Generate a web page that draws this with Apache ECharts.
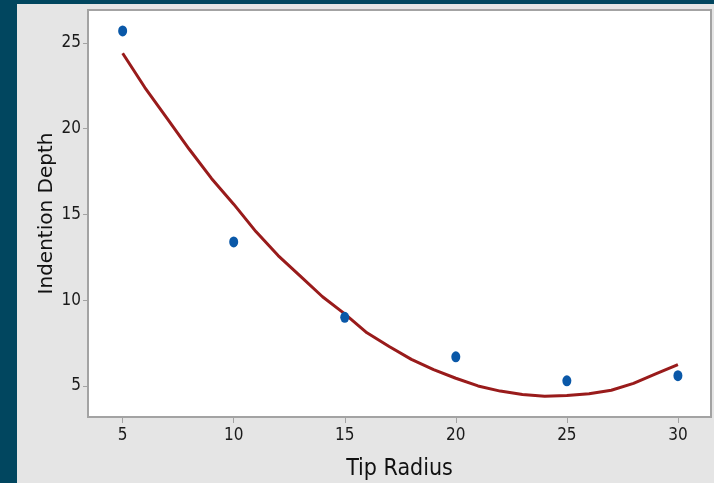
<!DOCTYPE html>
<html>
<head>
<meta charset="utf-8">
<script src="https://cdn.jsdelivr.net/npm/echarts@6/dist/echarts.min.js"></script>
<style>
  html, body { margin: 0; padding: 0; }
  body { width: 714px; height: 483px; background: #01465f; position: relative; overflow: hidden; }
  #main { position: absolute; left: 17px; top: 4px; width: 697px; height: 479px; }
</style>
</head>
<body>
<div id="main"></div>
<script>
// measured points
var tipRadius = [5, 10, 15, 20, 25, 30];
var depth = [25.7, 13.4, 9.0, 6.7, 5.3, 5.6];

// fitted curve
var fitX = [5, 6, 7, 8, 9, 10, 11, 12, 13, 14, 15, 16, 17, 18, 19, 20, 21, 22, 23, 24, 25, 26, 27, 28, 29, 30];
var fitY = [24.4, 22.4, 20.6, 18.8, 17.1, 15.6, 14.0, 12.6, 11.4, 10.2, 9.2, 8.1, 7.3, 6.55, 5.95, 5.45, 5.0, 4.7, 4.5, 4.4, 4.45, 4.55, 4.75, 5.15, 5.7, 6.25];

// tick labels
var xTicks = [5, 10, 15, 20, 25, 30];
var yTicks = [5, 10, 15, 20, 25];

var narrow = "'Liberation Sans Narrow', 'DejaVu Sans Condensed', sans-serif";

var chart = echarts.init(document.getElementById('main'));

var fitData = [];
for (var i = 0; i < fitX.length; i++) fitData.push([fitX[i], fitY[i]]);
var ptData = [];
for (var j = 0; j < tipRadius.length; j++) ptData.push([tipRadius[j], depth[j]]);

chart.setOption({
  backgroundColor: '#e5e5e5',
  animation: false,
  grid: {
    left: 71, right: 3, top: 6, bottom: 66,
    outerBoundsMode: 'none',
    containLabel: false,
    show: true,
    backgroundColor: '#ffffff',
    borderColor: '#a3a3a3',
    borderWidth: 2
  },
  xAxis: {
    type: 'value',
    min: 3.44, max: 31.49,
    name: 'Tip Radius',
    nameLocation: 'middle',
    nameGap: 41,
    nameMoveOverlap: false,
    nameTextStyle: { fontFamily: narrow, fontSize: 23, color: '#111' },
    axisLine: { show: false },
    splitLine: { show: false },
    axisTick: { show: true, length: 6, customValues: xTicks, lineStyle: { color: '#a3a3a3' } },
    axisLabel: { customValues: xTicks, margin: 10, fontFamily: narrow, fontSize: 17, color: '#1a1a1a' }
  },
  yAxis: {
    type: 'value',
    min: 3.19, max: 26.92,
    name: 'Indention Depth',
    nameLocation: 'middle',
    nameGap: 31,
    nameRotate: 90,
    nameMoveOverlap: false,
    nameTextStyle: { fontFamily: 'DejaVu Sans', fontSize: 20, color: '#111' },
    axisLine: { show: false },
    splitLine: { show: false },
    axisTick: { show: true, length: 5, customValues: yTicks, lineStyle: { color: '#a3a3a3' } },
    axisLabel: { customValues: yTicks, margin: 7, fontFamily: narrow, fontSize: 17, color: '#1a1a1a' }
  },
  series: [
    {
      type: 'line',
      data: fitData,
      showSymbol: false,
      smooth: false,
      lineStyle: { color: '#991b1b', width: 3 },
      z: 2
    },
    {
      type: 'scatter',
      data: ptData,
      symbol: 'circle',
      symbolSize: [9, 11],
      itemStyle: { color: '#0a58a8', opacity: 1 },
      z: 3
    }
  ]
});
</script>
</body>
</html>
